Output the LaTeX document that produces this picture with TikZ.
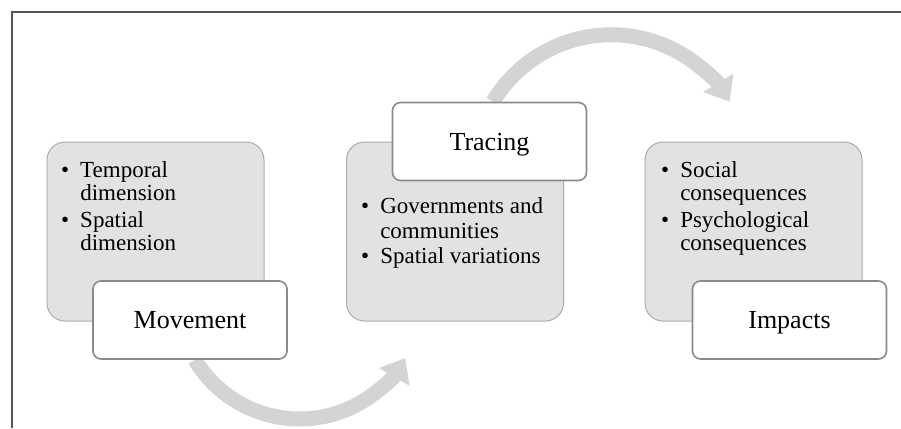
\documentclass[tikz,border=0pt]{standalone}
\usepackage{fontspec}
\setmainfont{Liberation Serif}
\usetikzlibrary{arrows.meta}

\definecolor{panelfill}{HTML}{E2E2E2}
\definecolor{panelline}{HTML}{ABABAB}
\definecolor{tagline}{HTML}{8A8A8A}
\definecolor{flow}{HTML}{D4D4D4}
\definecolor{frameline}{HTML}{555555}

\pgfdeclarelayer{behind}
\pgfsetlayers{behind,main}

\tikzset{
  panel/.style={draw=panelline, line width=1pt, fill=panelfill,
    rounded corners=18pt, minimum width=217pt, minimum height=179pt,
    inner sep=0pt},
  tag/.style={draw=tagline, line width=1.6pt, fill=white,
    rounded corners=8pt, minimum width=194pt, minimum height=78pt,
    inner sep=0pt, text height=17pt, text depth=0pt,
    font=\fontsize{26}{29}\selectfont},
  bullets/.style={anchor=base west, inner sep=0pt},
  flowarrow/.style={draw=flow, line width=15pt,
    -{Triangle[width=34pt, length=22pt]}},
}

% bullet list set as a two-column table, baseline on its first row
\newcommand{\blist}[2]{%
  {\fontsize{23}{#1}\selectfont
   \begin{tabular}[t]{@{}l@{\hspace{11pt}}l@{}}#2\end{tabular}}}

\begin{document}
\begin{tikzpicture}[x=1pt, y=1pt]
  \useasboundingbox (0,0) rectangle (901,-428);

  % outer frame (top and left edges)
  \draw[frameline, line width=1.5pt] (12,-428) -- (12,-12) -- (901,-12);

  % grey panels
  \node[panel] (p1) at (155.5,-231.5) {};
  \node[panel] (p2) at (455,-231.5) {};
  \node[panel] (p3) at (753.5,-231.5) {};

  % bullet texts
  \node[bullets] (t1) at (61,-177)
    {\blist{23}{\textbullet & Temporal\\ & dimension\\[4pt]
                \textbullet & Spatial\\ & dimension}};
  \node[bullets] (t2) at (361,-213)
    {\blist{25}{\textbullet & Governments and\\ & communities\\
                \textbullet & Spatial variations}};
  \node[bullets] (t3) at (661,-177)
    {\blist{23}{\textbullet & Social\\ & consequences\\[4pt]
                \textbullet & Psychological\\ & consequences}};

  % title boxes
  \node[tag] (mov) at (190,-320) {Movement};
  \node[tag] (trc) at (489.5,-141.5) {Tracing};
  \node[tag] (imp) at (789.5,-320) {Impacts};

  % curved flow arrows, beneath the title boxes
  \begin{pgfonlayer}{behind}
    \draw[flowarrow] ([xshift=5pt]mov.south)
      arc[start angle=211, end angle=330, radius=122];
    \draw[flowarrow] ([xshift=3.5pt]trc.north)
      arc[start angle=149, end angle=31, radius=138];
  \end{pgfonlayer}
\end{tikzpicture}
\end{document}
